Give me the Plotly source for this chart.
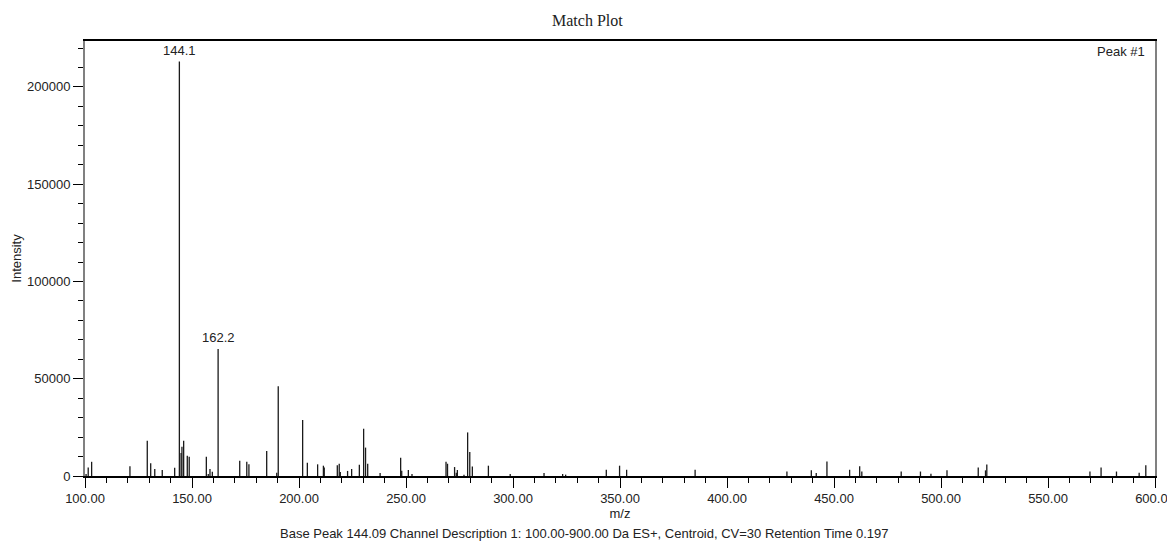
import plotly.graph_objects as go

# Peak list (m/z, intensity)
mz = [100.5, 101.5, 103.1, 121.0, 129.1, 130.7, 132.6, 136.1, 141.9, 144.1,
      144.9, 145.3, 146.1, 147.8, 148.7, 156.7, 157.6, 158.4, 159.5, 162.2,
      172.3, 175.6, 176.6, 184.9, 189.6, 190.3, 201.7, 203.9, 208.7, 211.4,
      211.8, 217.9, 218.8, 219.3, 222.7, 224.6, 228.2, 230.2, 231.1, 232.1,
      237.9, 247.5, 248.0, 251.1, 252.8, 268.7, 269.4, 272.7, 273.5, 274.0,
      277.1, 278.8, 279.8, 281.0, 288.5, 298.7, 314.5, 323.2, 324.6, 343.6,
      349.8, 353.1, 385.1, 428.0, 439.4, 441.7, 446.7, 457.3, 462.0, 463.0,
      481.4, 490.4, 495.3, 502.8, 517.4, 520.8, 521.4, 569.6, 574.8, 582.0,
      592.6, 595.7]
intensity = [1000, 4400, 7300, 5000, 18100, 6500, 3600, 3100, 4300, 213000,
             11800, 15000, 18100, 10400, 9900, 9900, 1000, 3600, 2200, 65300,
             7900, 7300, 6000, 12800, 1700, 46100, 28800, 6800, 6000, 5300,
             4400, 5500, 6300, 2000, 2600, 3600, 5800, 24300, 14600, 6300,
             1500, 9400, 2700, 3100, 1000, 7300, 6300, 4600, 1700, 3100,
             700, 22400, 12300, 4900, 5300, 1000, 1500, 1000, 700, 3200,
             5300, 3200, 3200, 2300, 2900, 1500, 7400, 3200, 5000, 2300,
             2300, 2300, 1100, 2900, 4400, 2900, 5900, 2300, 4400, 2300,
             1700, 5500]

labelled_mz = [144.1, 162.2]
labelled_int = [213000, 65300]
labelled_text = ["144.1", "162.2"]

title_text = "Match Plot"
caption = ("Base Peak 144.09 Channel Description 1: 100.00-900.00 Da ES+, "
           "Centroid, CV=30 Retention Time 0.197")

FONT = "Liberation Sans"
TXT = "#222"

xs, ys = [], []
for m, h in zip(mz, intensity):
    xs += [m, m, None]
    ys += [0, h, None]

fig = go.Figure()
fig.add_trace(go.Scatter(x=xs, y=ys, mode="lines",
                         line=dict(color="#1a1a1a", width=1.3),
                         hoverinfo="skip", showlegend=False))

for m, h, t in zip(labelled_mz, labelled_int, labelled_text):
    fig.add_annotation(x=m, y=h, text=t, showarrow=False, yanchor="bottom",
                       yshift=2, font=dict(family=FONT, size=13, color=TXT))

fig.add_annotation(x=1, y=1, xref="paper", yref="paper", text="Peak #1",
                   showarrow=False, xanchor="right", yanchor="top",
                   xshift=-8, yshift=-1,
                   font=dict(family=FONT, size=13, color=TXT))

# title (serif), centred on the page rather than on the plot area
fig.add_annotation(x=0.470, y=1, xref="paper", yref="paper", text=title_text,
                   showarrow=False, xanchor="center", yanchor="middle",
                   yshift=21,
                   font=dict(family="Liberation Serif", size=16, color=TXT))

fig.add_annotation(x=0.467, y=0, xref="paper", yref="paper", text=caption,
                   showarrow=False, xanchor="center", yanchor="middle",
                   yshift=-57,
                   font=dict(family=FONT, size=13, color=TXT))

# page body adds an 8px margin, so the figure is sized to fit the window
fig.update_layout(
    width=1167, height=533,
    margin=dict(l=77, r=20, t=33, b=65, autoexpand=False),
    paper_bgcolor="white", plot_bgcolor="white",
    font=dict(family=FONT, size=13, color=TXT),
    hovermode=False,
)

fig.update_xaxes(range=[100, 600], dtick=50, tick0=100, tickformat=".2f",
                 automargin=False,
                 showgrid=False, zeroline=False,
                 showline=True, linecolor="black", linewidth=1.5, mirror=True,
                 ticks="outside", ticklen=10, tickcolor="black", tickwidth=1.2,
                 tickfont=dict(size=13),
                 minor=dict(dtick=10, tick0=100, ticks="outside", ticklen=5,
                            tickcolor="black", tickwidth=1.2, showgrid=False),
                 title=dict(text="m/z", standoff=4, font=dict(size=13)))

fig.update_yaxes(range=[0, 223600], dtick=50000, tick0=0, tickformat="d",
                 automargin=False,
                 showgrid=False, zeroline=False,
                 showline=True, linecolor="#808080", linewidth=2, mirror=True,
                 ticks="outside", ticklen=10, tickcolor="black", tickwidth=1.2,
                 tickfont=dict(size=13),
                 minor=dict(dtick=10000, tick0=0, ticks="outside", ticklen=5,
                            tickcolor="black", tickwidth=1.2, showgrid=False),
                 title=dict(text="Intensity", standoff=2, font=dict(size=13)))

fig.write_html("out.html")
